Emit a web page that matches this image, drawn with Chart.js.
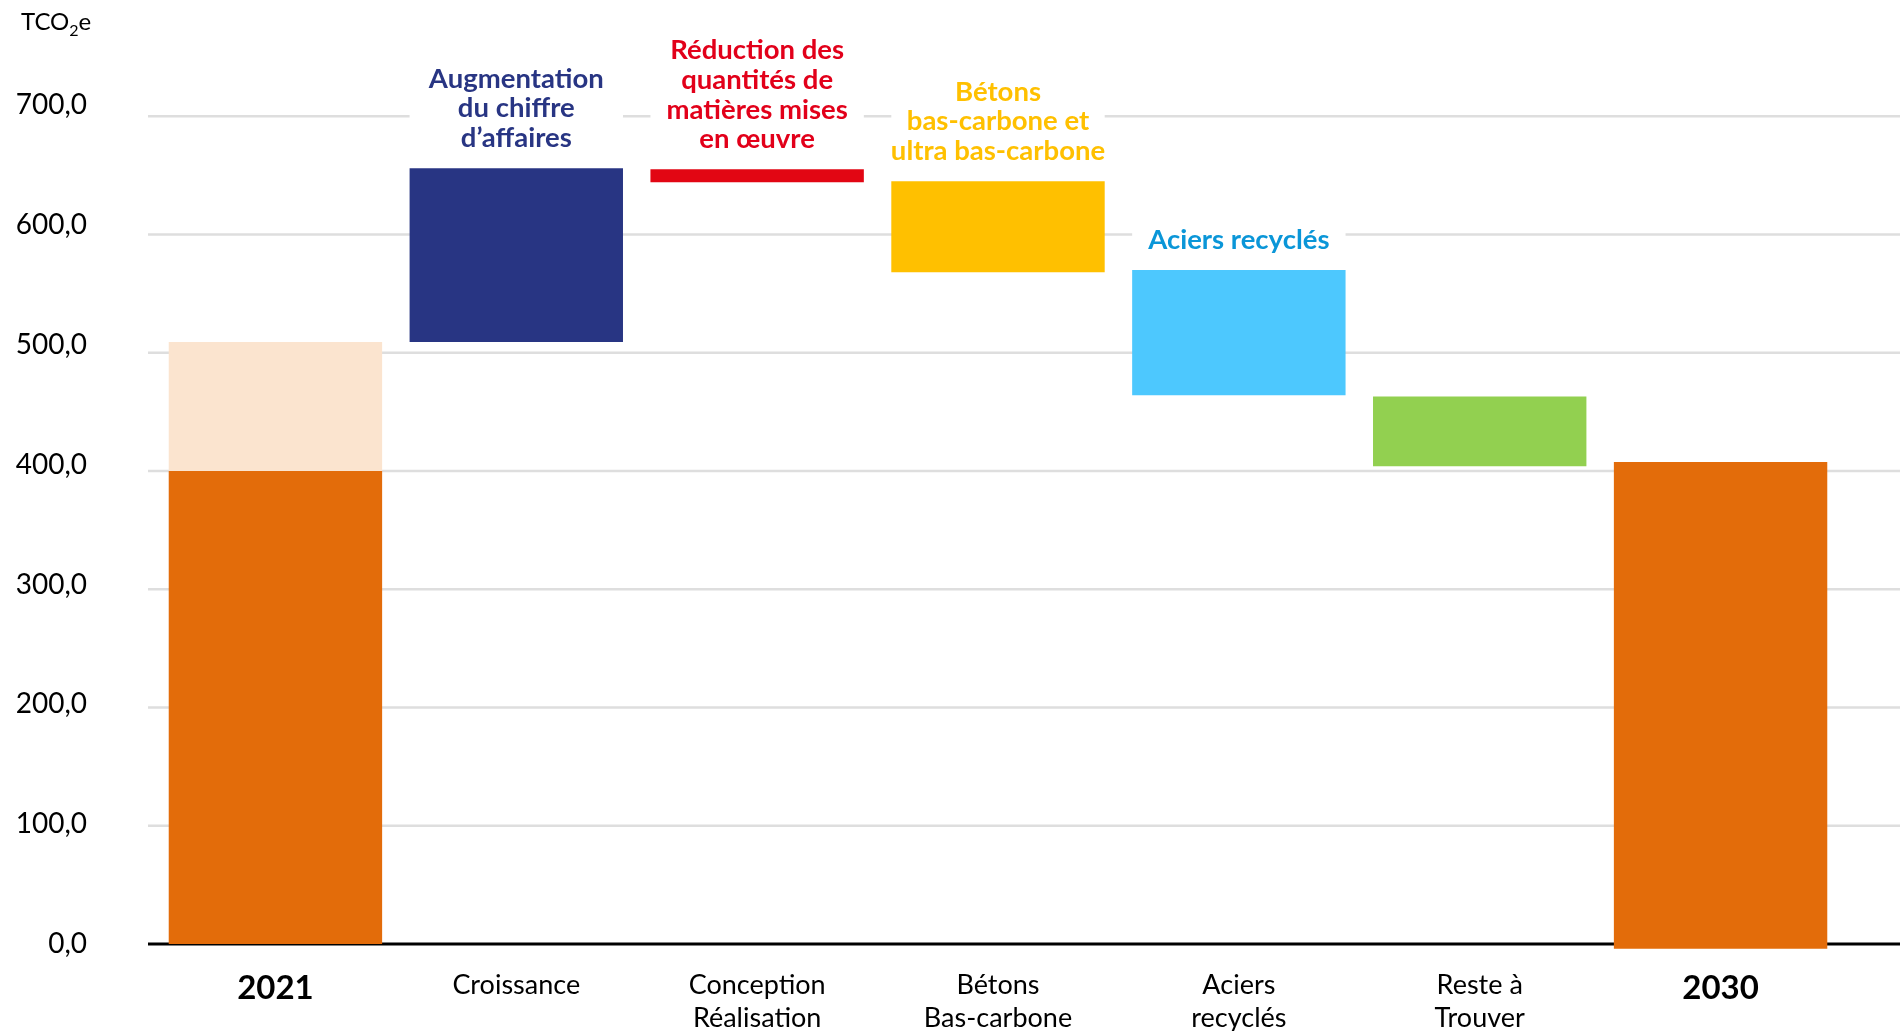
<!DOCTYPE html>
<html>
<head>
<meta charset="UTF-8" />
<title>Trajectoire TCO2e 2021 - 2030</title>
<script src="https://cdn.jsdelivr.net/npm/chart.js"></script>
<style>
  body { margin: 0; background: #fff; }
  #wrap { width: 1900px; height: 1031px; position: relative; }
</style>
</head>
<body>
<div id="wrap"><canvas id="chart"></canvas></div>
<script>
const categories = ['2021', 'Croissance', ['Conception', 'Réalisation'], ['Bétons', 'Bas-carbone'], ['Aciers', 'recyclés'], ['Reste à', 'Trouver'], '2030'];

// barres flottantes [bas, haut] en TCO2e
const baseBars = [[0, 400], null, null, null, null, null, [-4, 407.5]];
const extraBars = [[400, 509], null, null, null, null, null, null];
const stepBars = [null, [509, 656], [644, 655], [568, 645], [464, 570], [404, 463], null];
const stepColors = [null, '#283583', '#E20613', '#FFC000', '#4DC8FE', '#92D050', null];

const stepNotes = [null,
  ['Augmentation', 'du chiffre', 'd’affaires'],
  ['Réduction des', 'quantités de', 'matières mises', 'en œuvre'],
  ['Bétons', 'bas-carbone et', 'ultra bas-carbone'],
  ['Aciers recyclés'],
  null, null];
const noteColors = [null, '#283583', '#E2001A', '#FFC000', '#0A96D8', null, null];

const FONT = 'Lato, "Open Sans", sans-serif';
const fmt = v => v.toFixed(1).replace('.', ',');

// grille, cartouches et axe dessinés avant les barres
const decor = {
  id: 'decor',
  beforeDatasetsDraw(chart) {
    const ctx = chart.ctx;
    const y = chart.scales.y;
    ctx.save();
    ctx.strokeStyle = '#DEDEDE';
    ctx.lineWidth = 2.5;
    y.ticks.forEach(t => {
      if (t.value === 0) return;
      const py = y.getPixelForValue(t.value);
      ctx.beginPath();
      ctx.moveTo(148, py);
      ctx.lineTo(1900, py);
      ctx.stroke();
    });

    const meta = chart.getDatasetMeta(2);
    ctx.textAlign = 'center';
    ctx.textBaseline = 'middle';
    ctx.font = 'bold 27.5px ' + FONT;
    stepNotes.forEach((lines, i) => {
      if (!lines) return;
      const bar = meta.data[i];
      const top = Math.min(bar.y, bar.base);
      const lh = 29.7;
      const last = top - 30;
      const first = last - (lines.length - 1) * lh;
      ctx.fillStyle = '#fff';
      ctx.fillRect(bar.x - bar.width / 2, first - 16, bar.width, last - first + 32);
      ctx.fillStyle = noteColors[i];
      lines.forEach((s, k) => ctx.fillText(s, bar.x, first + k * lh));
    });

    const p0 = y.getPixelForValue(0);
    ctx.strokeStyle = '#000';
    ctx.lineWidth = 3;
    ctx.beginPath();
    ctx.moveTo(148, p0);
    ctx.lineTo(1900, p0);
    ctx.stroke();

    // unité
    ctx.fillStyle = '#000';
    ctx.textAlign = 'left';
    ctx.textBaseline = 'alphabetic';
    ctx.font = '24px ' + FONT;
    ctx.fillText('TCO', 21, 30);
    let w = ctx.measureText('TCO').width;
    ctx.font = '16px ' + FONT;
    ctx.fillText('2', 21 + w, 36);
    w += ctx.measureText('2').width;
    ctx.font = '24px ' + FONT;
    ctx.fillText('e', 21 + w, 30);
    ctx.restore();
  }
};

new Chart(document.getElementById('chart'), {
  type: 'bar',
  data: {
    labels: categories,
    datasets: [
      { data: baseBars, backgroundColor: '#E36C0A', grouped: false, clip: false },
      { data: extraBars, backgroundColor: '#FBE4CF', grouped: false, clip: false },
      { data: stepBars, backgroundColor: stepColors, grouped: false, clip: false }
    ]
  },
  options: {
    responsive: true,
    maintainAspectRatio: false,
    animation: false,
    barPercentage: 0.886,
    categoryPercentage: 1,
    layout: { padding: { top: 57, right: 59, left: 0, bottom: 0 } },
    plugins: { legend: { display: false }, tooltip: { enabled: false } },
    scales: {
      x: {
        grid: { display: false, drawTicks: false },
        border: { display: false },
        afterFit: s => { s.height = 87; },
        ticks: {
          color: '#000',
          padding: 24,
          maxRotation: 0,
          autoSkip: false,
          font: c => (c.index === 0 || c.index === 6)
            ? { family: FONT, size: 33, weight: 'bold', lineHeight: 1.25 }
            : { family: FONT, size: 27, lineHeight: 1.25 }
        }
      },
      y: {
        display: false,
        min: 0,
        max: 750,
        ticks: { stepSize: 100, includeBounds: false }
      },
      yLab: {
        position: 'left',
        min: 0,
        max: 740.2,
        grid: { display: false, drawTicks: false },
        border: { display: false },
        afterFit: s => { s.width = 155; s.paddingTop = 0; s.paddingBottom = 0; },
        ticks: {
          stepSize: 100,
          includeBounds: false,
          padding: 68,
          color: '#000',
          font: { family: FONT, size: 28 },
          callback: v => fmt(v)
        }
      }
    }
  },
  plugins: [decor]
});
</script>
</body>
</html>
